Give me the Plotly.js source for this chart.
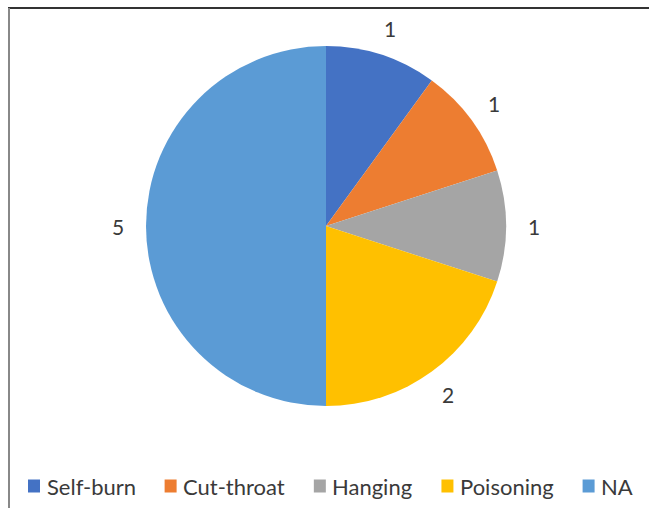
<!DOCTYPE html>
<html>
<head>
<meta charset="utf-8">
<script src="https://cdn.plot.ly/plotly-3.0.1.min.js"></script>
<style>
html,body{margin:0;padding:0;background:#fff;}
#wrap{position:relative;width:649px;height:508px;overflow:hidden;}
#chart{width:649px;height:508px;}
#bt{position:absolute;left:8px;top:7px;width:641px;height:2px;background:#333;}
#bl{position:absolute;left:8px;top:8px;width:2px;height:500px;background:#888;}
</style>
</head>
<body>
<div id="wrap"><div id="chart"></div><div id="bt"></div><div id="bl"></div></div>
<script>
var categories = ["Self-burn", "Cut-throat", "Hanging", "Poisoning", "NA"];
var counts = [1, 1, 1, 2, 5];
var colors = ["#4472C4", "#ED7D31", "#A5A5A5", "#FFC000", "#5B9BD5"];

var W = 649, H = 508, cx = 326, cy = 226, R = 180;
var FONT = "Lato, 'Open Sans', sans-serif";
var FS = 22;
var TXT = "#3a3a3a";

var trace = {
  type: "pie",
  labels: categories,
  values: counts,
  sort: false,
  direction: "clockwise",
  rotation: 0,
  marker: {colors: colors, line: {width: 0}},
  textinfo: "none",
  hoverinfo: "label+value",
  domain: {x: [(cx - R) / W, (cx + R) / W], y: [1 - (cy + R) / H, 1 - (cy - R) / H]}
};

// data labels outside each slice, placed at the slice mid-angle
var annotations = [];
var shapes = [];
var total = counts.reduce(function (a, b) { return a + b; }, 0);
var cum = 0, LR = 208;
counts.forEach(function (v) {
  var mid = (cum + v / 2) / total * 2 * Math.PI;
  cum += v;
  var px = cx + LR * Math.sin(mid), py = cy - LR * Math.cos(mid);
  annotations.push({
    xref: "paper", yref: "paper", x: px / W, y: 1 - py / H,
    xanchor: "center", yanchor: "middle", showarrow: false,
    text: String(v), font: {family: FONT, size: 21, color: TXT}
  });
});

// legend row (swatch + label), laid out by measured text width
var ctx = document.createElement("canvas").getContext("2d");
ctx.font = FS + "px " + FONT;
var lx = 28, ly = 486, SW = 12, SH = 13, GAP1 = 5.5, GAP2 = 30;
categories.forEach(function (c, i) {
  shapes.push({
    type: "rect", xref: "paper", yref: "paper",
    x0: lx / W, x1: (lx + SW) / W, y0: 1 - (ly + SH / 2) / H, y1: 1 - (ly - SH / 2) / H,
    fillcolor: colors[i], line: {width: 0}
  });
  var tx = lx + SW + GAP1;
  annotations.push({
    xref: "paper", yref: "paper", x: tx / W, y: 1 - ly / H,
    xanchor: "left", yanchor: "middle", showarrow: false, xshift: -1,
    text: c, font: {family: FONT, size: FS, color: TXT}
  });
  lx = tx + ctx.measureText(c).width + GAP2;
});

var layout = {
  width: W, height: H,
  margin: {l: 0, r: 0, t: 0, b: 0},
  paper_bgcolor: "#fff",
  showlegend: false,
  annotations: annotations,
  shapes: shapes
};
Plotly.newPlot("chart", [trace], layout, {displayModeBar: false, staticPlot: true});
</script>
</body>
</html>
